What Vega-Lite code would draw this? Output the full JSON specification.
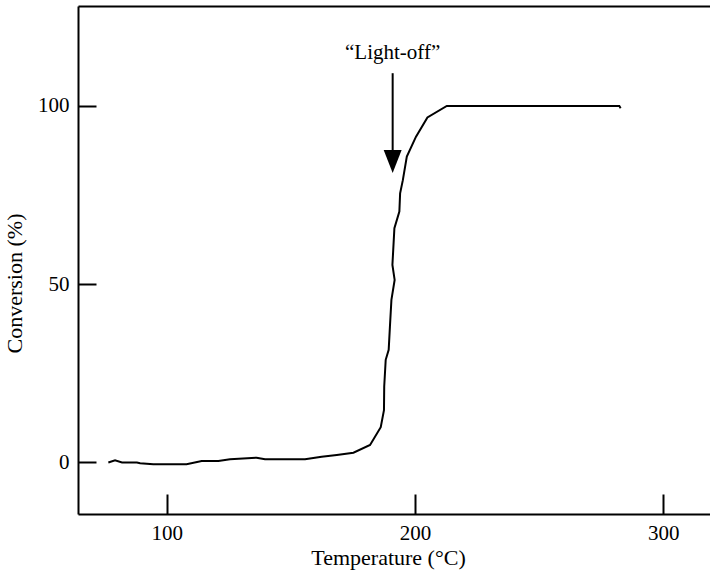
{
  "$schema": "https://vega.github.io/schema/vega-lite/v6.json",
  "width": 632,
  "height": 508,
  "autosize": {"type": "none"},
  "padding": {"left": 78, "top": 6, "right": 0, "bottom": 61},
  "background": "white",
  "config": {
    "view": {"stroke": null},
    "font": "Liberation Serif",
    "axis": {
      "domainColor": "black", "domainWidth": 2, "tickColor": "black", "tickWidth": 2,
      "labelColor": "black", "labelFont": "Liberation Serif", "labelFontSize": 21,
      "titleColor": "black", "titleFont": "Liberation Serif", "titleFontSize": 22, "titleFontWeight": "normal",
      "grid": false
    }
  },
  "resolve": {"axis": {"x": "independent"}},
  "layer": [
    {
      "data": {"values": [
        {"i": 1, "T": 76.5, "C": 0}, {"i": 2, "T": 79.2, "C": 0.6}, {"i": 3, "T": 82, "C": 0},
        {"i": 4, "T": 88, "C": 0}, {"i": 5, "T": 89.3, "C": -0.2}, {"i": 6, "T": 94.6, "C": -0.5},
        {"i": 7, "T": 108, "C": -0.5}, {"i": 8, "T": 114.1, "C": 0.4}, {"i": 9, "T": 120.8, "C": 0.4},
        {"i": 10, "T": 125.5, "C": 0.9}, {"i": 11, "T": 136.2, "C": 1.35}, {"i": 12, "T": 139.6, "C": 0.9},
        {"i": 13, "T": 155.7, "C": 0.9}, {"i": 14, "T": 162.4, "C": 1.6}, {"i": 15, "T": 168.5, "C": 2.1},
        {"i": 16, "T": 175.2, "C": 2.75}, {"i": 17, "T": 181.9, "C": 4.9}, {"i": 18, "T": 186.2, "C": 9.9},
        {"i": 19, "T": 187.5, "C": 14.7}, {"i": 20, "T": 187.6, "C": 21.3}, {"i": 21, "T": 188.2, "C": 28.8},
        {"i": 22, "T": 189.4, "C": 31.6}, {"i": 23, "T": 189.9, "C": 38.1}, {"i": 24, "T": 190.5, "C": 45.6},
        {"i": 25, "T": 191.8, "C": 51.2}, {"i": 26, "T": 190.9, "C": 55.4}, {"i": 27, "T": 191.7, "C": 65.7},
        {"i": 28, "T": 193.7, "C": 70.4}, {"i": 29, "T": 194, "C": 75.5}, {"i": 30, "T": 195.1, "C": 79.2},
        {"i": 31, "T": 196.7, "C": 85.8}, {"i": 32, "T": 200.4, "C": 91.4}, {"i": 33, "T": 205, "C": 96.8},
        {"i": 34, "T": 212.8, "C": 100}, {"i": 35, "T": 282.3, "C": 100}, {"i": 36, "T": 282.8, "C": 99.4}
      ]},
      "mark": {"type": "line", "color": "black", "strokeWidth": 2},
      "encoding": {
        "x": {"field": "T", "type": "quantitative",
          "scale": {"domain": [64.28, 318.8], "nice": false, "zero": false},
          "axis": {"values": [100, 200, 300], "tickSize": -20, "labelPadding": 39, "labelBaseline": "middle",
            "title": "Temperature (°C)", "titleX": 310, "titleY": 50, "titleBaseline": "alphabetic"}},
        "y": {"field": "C", "type": "quantitative",
          "scale": {"domain": [-14.45, 128.05], "nice": false, "zero": false},
          "axis": {"values": [0, 50, 100], "tickSize": -18, "labelPadding": 27, "labelBaseline": "middle",
            "title": "Conversion (%)", "titleX": -64, "titleY": 277, "titleBaseline": "middle", "titleAlign": "center"}},
        "order": {"field": "i", "type": "quantitative"}
      }
    },
    {
      "data": {"values": [{"T": 191, "C": 109.2, "C2": 87.6}]},
      "mark": {"type": "rule", "color": "black", "strokeWidth": 2},
      "encoding": {
        "x": {"field": "T", "type": "quantitative",
          "axis": {"orient": "top", "domain": true, "ticks": false, "labels": false, "title": null, "grid": false}},
        "y": {"field": "C", "type": "quantitative"},
        "y2": {"field": "C2"}
      }
    },
    {
      "data": {"values": [{"T": 191, "C": 84.4}]},
      "mark": {"type": "point", "shape": "M-0.78,-1L0.78,-1L0,1Z", "filled": true, "color": "black", "opacity": 1, "size": 529},
      "encoding": {
        "x": {"field": "T", "type": "quantitative", "axis": null},
        "y": {"field": "C", "type": "quantitative"}
      }
    },
    {
      "data": {"values": [{"T": 191, "C": 113.1, "label": "“Light-off”"}]},
      "mark": {"type": "text", "font": "Liberation Serif", "fontSize": 21, "color": "black", "baseline": "alphabetic", "align": "center"},
      "encoding": {
        "x": {"field": "T", "type": "quantitative", "axis": null},
        "y": {"field": "C", "type": "quantitative"},
        "text": {"field": "label"}
      }
    }
  ]
}
